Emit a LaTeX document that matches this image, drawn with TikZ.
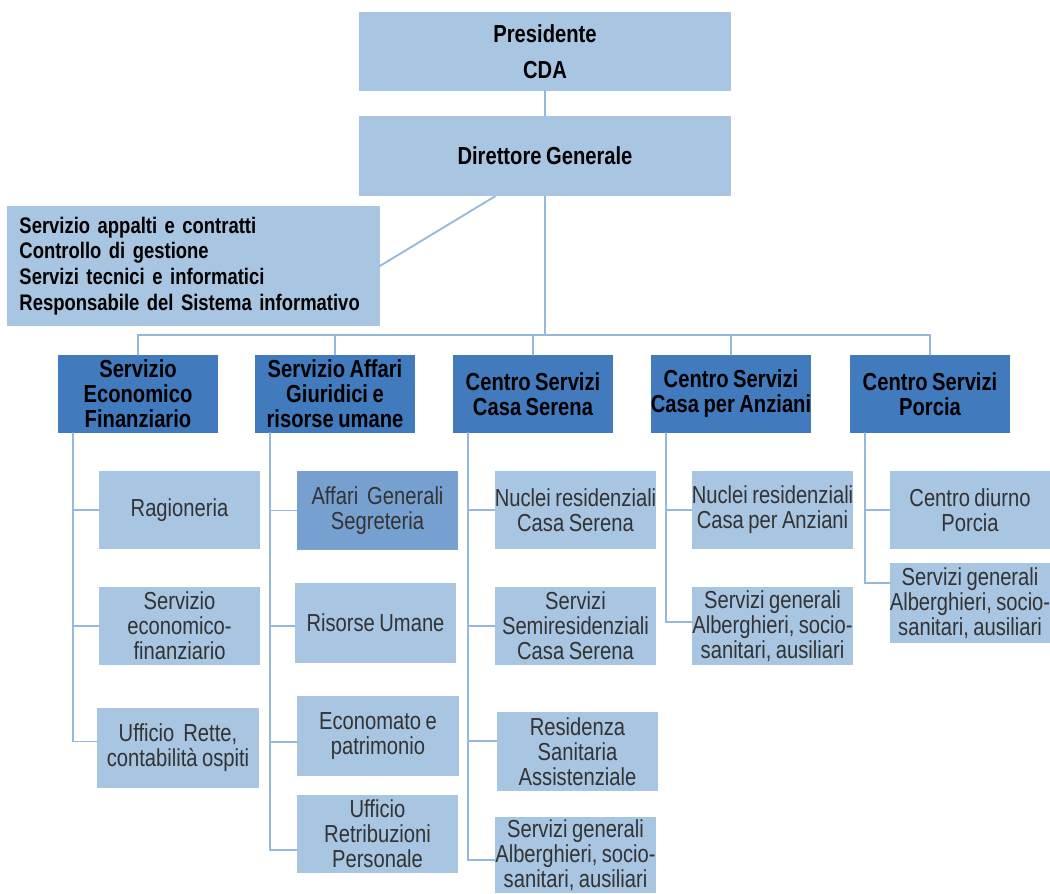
\documentclass[tikz,border=0pt]{standalone}
\usepackage{fontspec}
\setmainfont{Liberation Sans}[FakeStretch=0.82,WordSpace=0.8]
\usepackage{xcolor}
\usepackage{tikz}
\usetikzlibrary{calc}
\definecolor{boxlight}{RGB}{168,197,226}
\definecolor{boxdark}{RGB}{66,122,190}
\definecolor{boxmid}{RGB}{118,160,207}
\definecolor{linkblue}{RGB}{150,184,220}

\begin{document}
\begin{tikzpicture}[x=0.025cm,y=-0.025cm,line cap=round,
		every node/.style={inner sep=0pt,align=center,text=black!80,font=\fontsize{17.5}{17.7}\selectfont},
		topbox/.style={fill=boxlight,minimum width=9.3cm,text=black,font=\fontsize{17.5}{17.7}\selectfont\bfseries},
		deptbox/.style={fill=boxdark,minimum width=4cm,minimum height=1.95cm,text=black,font=\fontsize{17.5}{17.7}\selectfont\bfseries},
		unitbox/.style={fill=boxlight,minimum width=4.03cm,minimum height=1.95cm},
		link/.style={draw=linkblue,line width=1.3pt}]
			\useasboundingbox (0,0) rectangle (1050,893);
			\node[topbox,minimum height=1.98cm] (pres) at (545,51.5) {Presidente\\[8pt]CDA};
			\node[topbox,minimum height=2cm] (dg) at (545,156) {Direttore Generale};
			\node[topbox,minimum height=3cm,text width=8.7cm,inner xsep=0.3cm,align=left,
				font=\fontsize{16}{18.4}\selectfont\bfseries] (staff) at (193.5,266)
			{Servizio appalti e contratti\\Controllo di gestione\\Servizi tecnici e informatici\\Responsabile del Sistema informativo};
			\foreach \n/\x/\t in {sef/138/{Servizio\\Economico\\Finanziario},sag/335/{Servizio Affari\\Giuridici e\\risorse umane},
				css/533/{Centro Servizi\\Casa Serena},csa/731/{Centro Servizi\\Casa per Anziani},cspor/930/{Centro Servizi\\Porcia}}
				\node[deptbox] (\n) at (\x,394) {\t};
			% uffici
			\node[unitbox] (rag) at (179.5,510) {Ragioneria};
			\node[unitbox] (sefin) at (179.5,626) {Servizio\\economico-\\finanziario};
			\node[unitbox,minimum height=2cm] (rette) at (178,748) {Ufficio\ \ Rette,\\contabilità ospiti};
			\node[unitbox,fill=boxmid] (agen) at (377.5,510.5) {Affari\ \ Generali\\Segreteria};
			\node[unitbox,minimum height=2cm] (risu) at (375.5,623) {Risorse Umane};
			\node[unitbox,minimum height=2cm] (econ) at (378,736) {Economato e\\patrimonio};
			\node[unitbox] (retr) at (377.5,834) {Ufficio\\Retribuzioni\\Personale};
			\node[unitbox] (nrcs) at (575.5,510) {Nuclei residenziali\\Casa Serena};
			\node[unitbox] (ssr) at (575.5,626) {Servizi\\Semiresidenziali\\Casa Serena};
			\node[unitbox] (rsa) at (577.5,751.5) {Residenza\\Sanitaria\\Assistenziale};
			\node[unitbox,minimum height=1.9cm] (sgcs) at (575.5,855) {Servizi generali\\Alberghieri, socio-\\sanitari, ausiliari};
			\node[unitbox] (nrca) at (772.5,510) {Nuclei residenziali\\Casa per Anziani};
			\node[unitbox] (sgca) at (772.5,626) {Servizi generali\\Alberghieri, socio-\\sanitari, ausiliari};
			\node[unitbox,minimum width=4cm] (cdp) at (970,510) {Centro diurno\\Porcia};
			\node[unitbox,minimum width=4cm,minimum height=2cm] (sgp) at (970,603) {Servizi generali\\Alberghieri, socio-\\sanitari, ausiliari};
			% collegamenti
			\draw[link] (pres.south) -- (dg.north);
			\draw[link] ($(dg.south west)!0.366!(dg.south east)$) -- (staff.east);
			\coordinate (bus) at (dg.south |- 0,335);
			\draw[link] (dg.south) -- (bus);
			\draw[link] (sef.north) |- (cspor.north |- bus) -- (cspor.north);
			\foreach \n in {sag,css,csa} \draw[link] (\n.north) -- (\n.north |- bus);
			\foreach \d/\s in {sef/s1,sag/s2,css/s3,csa/s4,cspor/s5}
				\coordinate (\s) at ($(\d.south west)+(15.5,0)$);
			\foreach \s/\u/\r in {s1/rag/0.5,s1/sefin/0.5,s1/rette/0.42,s2/agen/0.5,s2/risu/0.54,s2/econ/0.57,s2/retr/0.7,
				s3/nrcs/0.5,s3/ssr/0.5,s3/rsa/0.37,s3/sgcs/0.57,s4/nrca/0.5,s4/sgca/0.45,s5/cdp/0.5,s5/sgp/0.25}
				\draw[link] (\s) |- ($(\u.north west)!\r!(\u.south west)$);
	\end{tikzpicture}
\end{document}
